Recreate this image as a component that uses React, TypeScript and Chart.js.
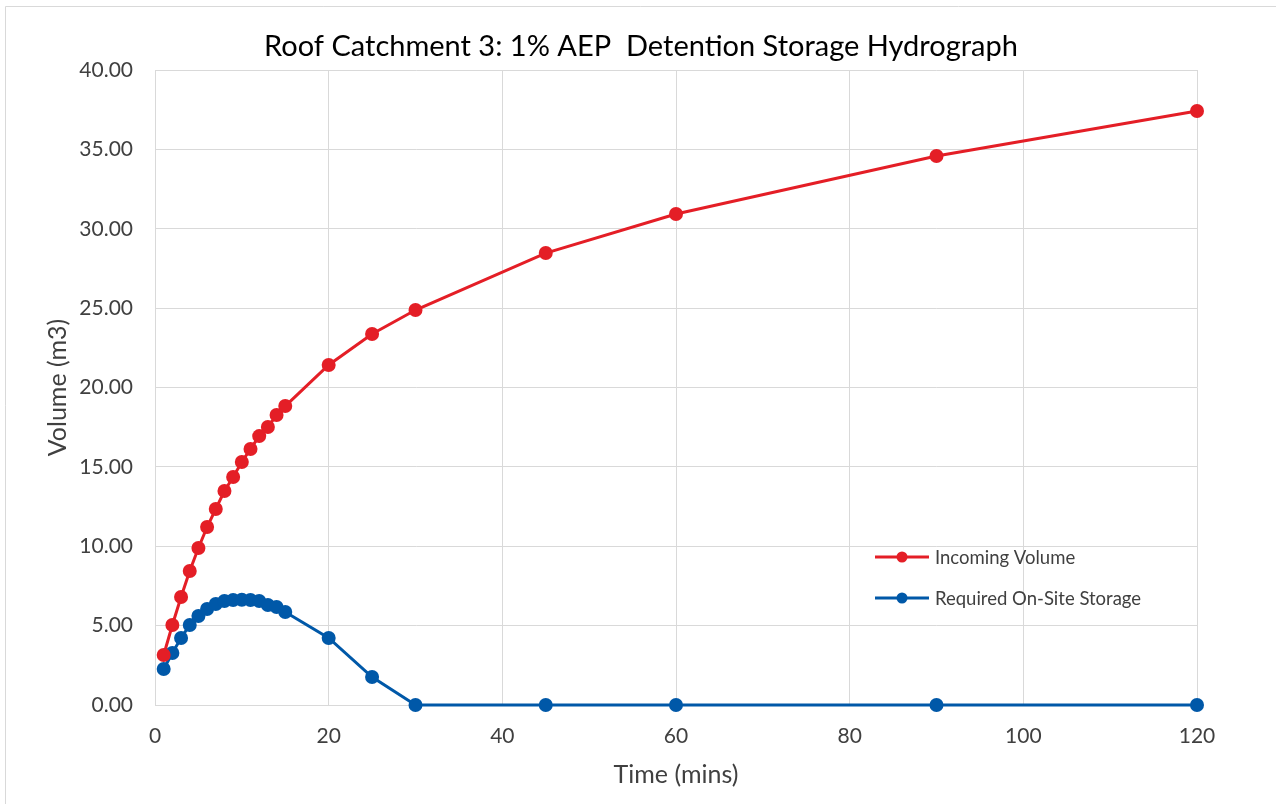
import React, { useEffect, useRef } from "react";
import { Chart, registerables } from "chart.js";

Chart.register(...registerables);

const timeMins = [1, 2, 3, 4, 5, 6, 7, 8, 9, 10, 11, 12, 13, 14, 15, 20, 25, 30, 45, 60, 90, 120];
const incomingVolume = [3.15, 5.04, 6.8, 8.44, 9.89, 11.21, 12.35, 13.48, 14.36, 15.31, 16.13, 16.94, 17.51, 18.27, 18.83, 21.42, 23.37, 24.88, 28.47, 30.93, 34.58, 37.42];
const requiredStorage = [2.27, 3.28, 4.22, 5.04, 5.61, 6.05, 6.36, 6.55, 6.61, 6.63, 6.61, 6.55, 6.3, 6.17, 5.86, 4.22, 1.76, 0, 0, 0, 0, 0];
const seriesNames = ["Incoming Volume", "Required On-Site Storage"];
const seriesColors = ["#E41E26", "#0058A8"];
const chartTitle = "Roof Catchment 3: 1% AEP  Detention Storage Hydrograph";
const xTitle = "Time (mins)";
const yTitle = "Volume (m3)";

const FONT = "Lato, 'Open Sans', sans-serif";

const frame = {
  id: "frame",
  beforeDraw(chart: any) {
    const ctx = chart.ctx;
    ctx.save();
    ctx.fillStyle = "#ffffff";
    ctx.fillRect(0, 0, chart.width, chart.height);
    ctx.strokeStyle = "#d9d9d9";
    ctx.lineWidth = 1;
    ctx.beginPath();
    ctx.moveTo(5.5, chart.height);
    ctx.lineTo(5.5, 6.5);
    ctx.lineTo(chart.width, 6.5);
    ctx.stroke();
    ctx.restore();
  },
  afterDatasetsDraw(chart: any) {
    const ctx = chart.ctx;
    const { right, top } = chart.chartArea;
    ctx.save();
    ctx.fillStyle = "#000000";
    ctx.font = "29px " + FONT;
    ctx.textAlign = "center";
    ctx.textBaseline = "middle";
    ctx.fillText(chartTitle, 641, 47);
    const x0 = right - 322;
    const ys = [top + 487, top + 528];
    chart.data.datasets.forEach((ds: any, i: number) => {
      const y = ys[i];
      ctx.strokeStyle = ds.borderColor;
      ctx.lineWidth = 3;
      ctx.beginPath();
      ctx.moveTo(x0, y);
      ctx.lineTo(x0 + 54, y);
      ctx.stroke();
      ctx.fillStyle = ds.backgroundColor;
      ctx.beginPath();
      ctx.arc(x0 + 27, y, 5.5, 0, Math.PI * 2);
      ctx.fill();
      ctx.fillStyle = "#404040";
      ctx.font = "18.5px " + FONT;
      ctx.textBaseline = "middle";
      ctx.textAlign = "left";
      ctx.fillText(ds.label, x0 + 60, y + 1);
    });
    ctx.restore();
  },
};

export default function App() {
  const ref = useRef<HTMLCanvasElement>(null);
  useEffect(() => {
    document.body.style.margin = "0";
    const data = {
      datasets: [incomingVolume, requiredStorage].map((vals, i) => ({
        label: seriesNames[i],
        data: timeMins.map((t, j) => ({ x: t, y: vals[j] })),
        borderColor: seriesColors[i],
        backgroundColor: seriesColors[i],
        borderWidth: 3,
        pointRadius: 7,
        pointBorderWidth: 0,
        pointHoverRadius: 7,
        tension: 0,
        clip: false as any,
      })),
    };
    const chart = new Chart(ref.current!, {
      type: "line",
      data,
      plugins: [frame],
      options: {
        animation: false,
        responsive: false,
        layout: { padding: { left: 8, right: 79, top: 70, bottom: 9 } },
        plugins: {
          legend: { display: false },
          tooltip: { enabled: false },
          title: { display: false },
        },
        scales: {
          x: {
            type: "linear",
            min: 0,
            max: 120,
            ticks: { stepSize: 20, color: "#404040", font: { family: FONT, size: 21 }, padding: 19 },
            grid: { color: "#d9d9d9", lineWidth: 1, drawTicks: false },
            border: { display: true, color: "#d9d9d9" },
            title: { display: true, text: xTitle, color: "#404040", font: { family: FONT, size: 25 }, padding: { top: 0, bottom: 5 } },
            afterFit: (s: any) => { s.height = 90; },
          },
          y: {
            type: "linear",
            min: 0,
            max: 40,
            ticks: { stepSize: 5, color: "#404040", font: { family: FONT, size: 21 }, padding: 22, callback: (v: any) => Number(v).toFixed(2) },
            grid: { color: "#d9d9d9", lineWidth: 1, drawTicks: false },
            border: { display: true, color: "#d9d9d9" },
            title: { display: true, text: yTitle, color: "#404040", font: { family: FONT, size: 25 }, padding: { top: 35, bottom: 0 } },
            afterFit: (s: any) => { s.width = 147; },
          },
        },
      },
    });
    return () => chart.destroy();
  }, []);
  return <canvas ref={ref} width={1276} height={804} style={{ display: "block" }} />;
}
